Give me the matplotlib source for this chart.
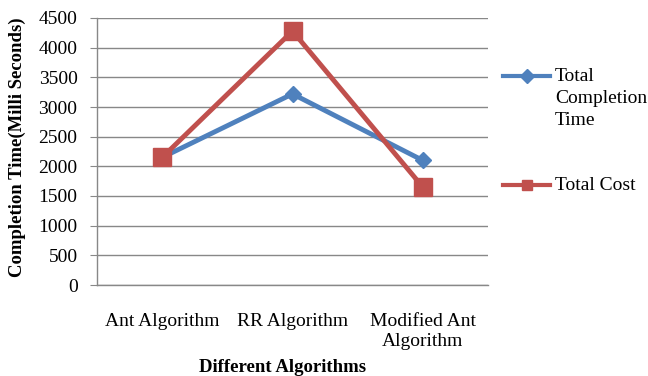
import matplotlib
matplotlib.use('Agg')
import matplotlib.pyplot as plt
from matplotlib.lines import Line2D

plt.rcParams['font.family'] = ['Liberation Serif', 'DejaVu Serif']

algorithms = ['Ant Algorithm', 'RR Algorithm', 'Modified Ant\nAlgorithm']
completion_time = [2150, 3220, 2100]
total_cost = [2150, 4280, 1650]
y_ticks = list(range(0, 4501, 500))

blue = '#4F81BD'
red = '#C0504D'
grey = '#888888'

W, H = 648, 376
fig = plt.figure(figsize=(W / 100, H / 100), dpi=100)
ax = fig.add_axes([97 / W, 1 - 285 / H, (488 - 97) / W, (285 - 18) / H])

x = list(range(len(algorithms)))
ax.plot(x, completion_time, color=blue, lw=3.5, marker='D', ms=8, zorder=3)
ax.plot(x, total_cost, color=red, lw=3.5, marker='s', ms=13, zorder=4)

ax.set_xlim(-0.5, 2.5)
ax.set_ylim(0, 4500)
ax.set_yticks(y_ticks)
ax.set_xticks(x)
ax.set_xticklabels(algorithms, fontsize=14, linespacing=1.25)
ax.tick_params(axis='x', length=0, pad=20)
ax.tick_params(axis='y', labelsize=14, length=5, color=grey, pad=9)
ax.yaxis.grid(True, color=grey, lw=1)
ax.set_axisbelow(True)
for s in ['top', 'right']:
    ax.spines[s].set_visible(False)
for s in ['left', 'bottom']:
    ax.spines[s].set_color(grey)
    ax.spines[s].set_linewidth(1)

fig.text(17 / W, 1 - 147 / H, 'Completion Time(Milli Seconds)', rotation=90,
         ha='center', va='center', fontsize=13.5, fontweight='bold')
fig.text(283 / W, 1 - 367 / H, 'Different Algorithms',
         ha='center', va='center', fontsize=13.5, fontweight='bold')

# legend drawn by hand to match the layout
entries = [('Total\nCompletion\nTime', blue, 'D', 7, 76),
           ('Total Cost', red, 's', 7.5, 185)]
for label, c, m, ms, yp in entries:
    yf = 1 - yp / H
    fig.add_artist(Line2D([503 / W, 550 / W], [yf, yf], color=c, lw=3,
                          transform=fig.transFigure))
    fig.add_artist(Line2D([527 / W], [yf], color=c, marker=m, ms=ms,
                          transform=fig.transFigure))
    fig.text(555 / W, 1 - (yp - 8) / H, label, ha='left', va='top',
             fontsize=14, linespacing=1.4)

fig.savefig('out.png', dpi=100)
